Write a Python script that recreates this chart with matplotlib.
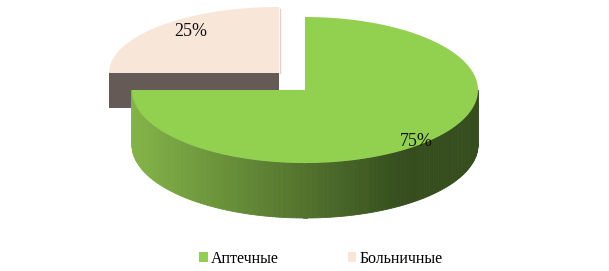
import numpy as np
import matplotlib.pyplot as plt
from matplotlib.patches import Polygon, Patch

# Данные
categories = ['Аптечные', 'Больничные']
shares = [75, 25]
labels = ['75%', '25%']
top_colors = ['#92d050', '#f8e6d8']

plt.rcParams['font.family'] = ['Liberation Serif', 'DejaVu Serif']

fig = plt.figure(figsize=(6.09, 2.71), dpi=100)
ax = fig.add_axes([0, 0, 1, 1])
ax.set_xlim(0, 609)
ax.set_ylim(271, 0)
ax.axis('off')

# геометрия (в пикселях)
cx, cy, rx, ry, depth = 305, 90, 173, 73, 55
# вырезанный сектор
bx, by, brx, bry, bdepth = 279, 73, 170, 66, 35


def pt(x0, y0, a, b, th):
    return x0 + a * np.cos(th), y0 - b * np.sin(th)


# углы секторов: старт сверху, по часовой стрелке
start = np.pi / 2
fr = np.array(shares) / sum(shares)
g0, g1 = start - 2 * np.pi * fr[0], start   # зеленый
b0, b1 = start, start + 2 * np.pi * fr[1]   # бежевый

# --- бежевый сектор (сзади) ---
ax.add_patch(Polygon([(bx - brx, by), (bx, by), (bx, by + bdepth), (bx - brx, by + bdepth)],
                     closed=True, fc='#655a55', ec='none'))
th = np.linspace(b0, b1, 100)
xs, ys = pt(bx, by, brx, bry, th)
ax.add_patch(Polygon([(bx, by)] + list(zip(xs, ys)), closed=True, fc=top_colors[1], ec='none'))
ax.plot([bx + 0.5, bx + 0.5], [by - bry + 2, by], color='#e6d2c4', lw=1)

# --- зеленый сектор: боковая стенка с градиентом ---
c_light = np.array([0x84, 0xb4, 0x48]) / 255
c_dark = np.array([0x36, 0x4e, 0x1e]) / 255
ths = np.linspace(max(g0, -np.pi), min(g1, 0), 160)
for i in range(len(ths) - 1):
    t0, t1 = ths[i], ths[i + 1]
    x0, y0 = pt(cx, cy, rx, ry, t0)
    x1, y1 = pt(cx, cy, rx, ry, t1)
    u = (np.cos((t0 + t1) / 2) + 1) / 2
    k = min(1.0, u / 0.78)
    col = c_light * (1 - k) + c_dark * k
    ax.add_patch(Polygon([(x0, y0), (x1, y1), (x1, y1 + depth), (x0, y0 + depth)],
                         closed=True, fc=col, ec=col, lw=0.6))

# верх зеленого сектора
th = np.linspace(g0, g1, 300)
xs, ys = pt(cx, cy, rx, ry, th)
ax.add_patch(Polygon([(cx, cy)] + list(zip(xs, ys)), closed=True, fc=top_colors[0], ec='none'))

# подписи
ax.text(416, 141, labels[0], ha='center', va='center', fontsize=13, color='#111111')
ax.text(191, 32, labels[1], ha='center', va='center', fontsize=13, color='#111111')

# легенда
handles = [Patch(fc=top_colors[i], ec='none', label=categories[i]) for i in range(2)]
ax.legend(handles=handles, loc='center', bbox_to_anchor=(0.527, 0.045), ncol=2, frameon=False,
          fontsize=11.5, handlelength=0.55, handleheight=0.55, handletextpad=0.2,
          columnspacing=4.3, borderpad=0)

fig.savefig('out.png', dpi=100)
